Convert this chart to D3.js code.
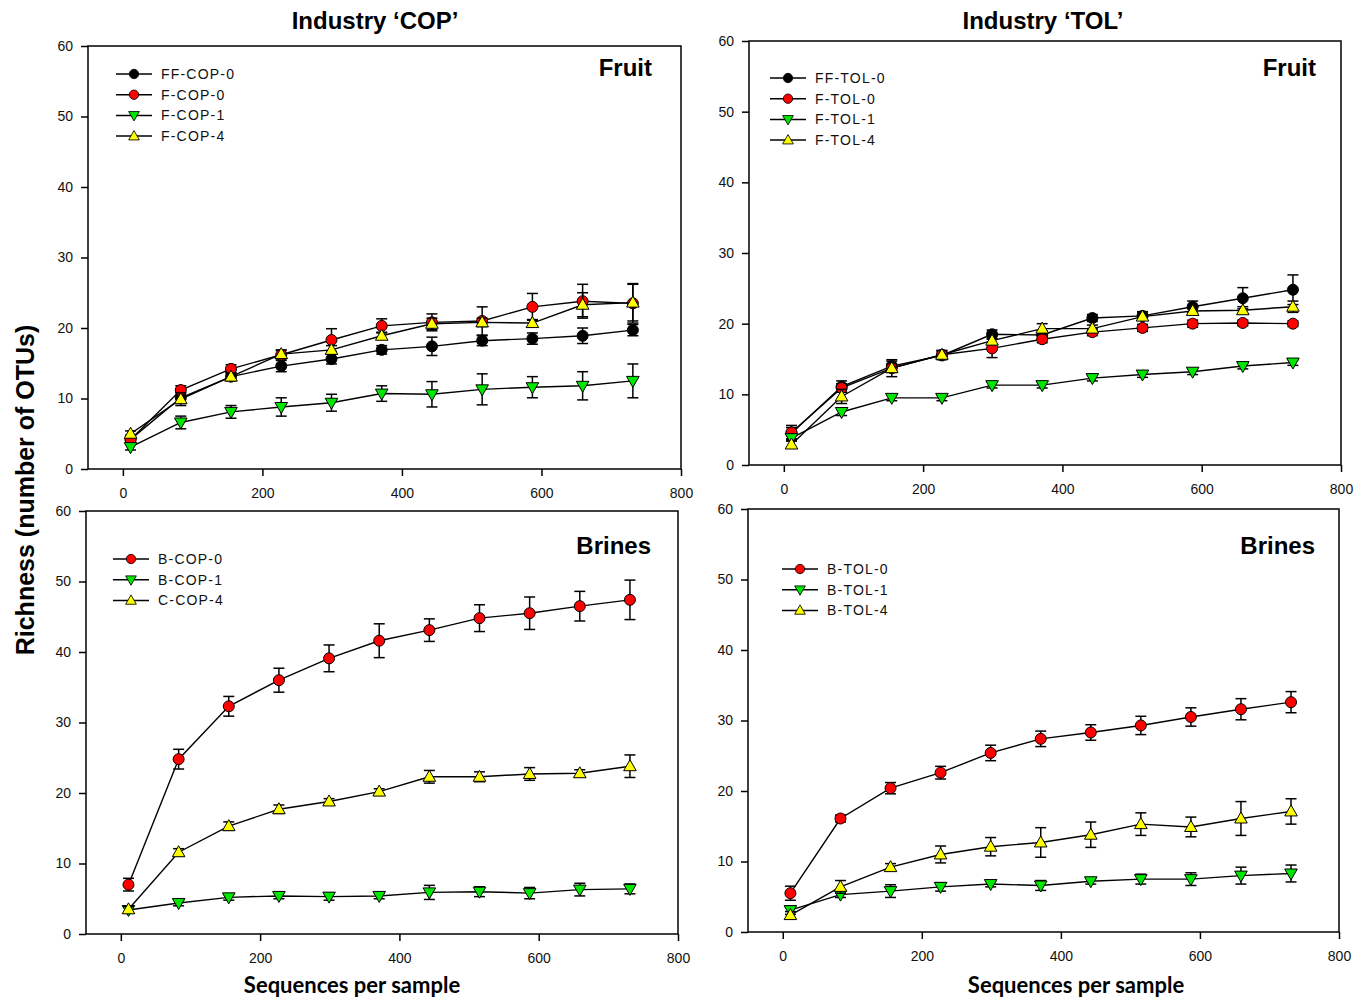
<!DOCTYPE html>
<html>
<head>
<meta charset="utf-8">
<script src="https://cdn.jsdelivr.net/npm/d3@7/dist/d3.min.js"></script>
<style>
  body { margin: 0; background: #fff; }
  svg { display: block; }
</style>
</head>
<body>
<svg id="chart" width="1369" height="997"></svg>
<script>
// ---------------- DATA ----------------
const seqPerSample = [11, 83, 155, 227, 299, 371, 443, 515, 587, 659, 731];
const xTicks = [0, 200, 400, 600, 800];
const yTicks = [0, 10, 20, 30, 40, 50, 60];

// Industry COP - Fruit
const FF_COP_0 = [4.2, 10.1, 13.1, 14.6, 15.6, 16.9, 17.4, 18.2, 18.5, 18.9, 19.7];
const FF_COP_0_err = [0.5, 0.8, 0.6, 0.8, 0.7, 0.6, 1.3, 0.7, 0.8, 1.1, 0.8];
const F_COP_0 = [4.2, 11.2, 14.2, 16.2, 18.3, 20.3, 20.8, 21.0, 23.0, 23.8, 23.5];
const F_COP_0_err = [0.6, 0.6, 0.6, 0.6, 1.6, 1.0, 1.2, 2.0, 1.9, 2.4, 2.8];
const F_COP_1 = [3.1, 6.6, 8.1, 8.8, 9.4, 10.7, 10.6, 11.3, 11.6, 11.8, 12.5];
const F_COP_1_err = [0.4, 0.9, 0.9, 1.3, 1.2, 1.1, 1.8, 2.2, 1.5, 2.0, 2.4];
const F_COP_4 = [5.0, 9.9, 13.1, 16.3, 16.9, 18.9, 20.6, 20.8, 20.7, 23.3, 23.6];
const F_COP_4_err = [0.4, 0.9, 0.5, 0.6, 0.6, 0.5, 0.8, 0.6, 0.5, 1.7, 2.6];

// Industry TOL - Fruit
const FF_TOL_0 = [4.5, 11.1, 14.0, 15.5, 18.5, 18.4, 20.8, 21.1, 22.4, 23.6, 24.8];
const FF_TOL_0_err = [0.8, 0.8, 0.7, 0.6, 0.6, 0.6, 0.5, 0.6, 0.8, 1.5, 2.1];
const F_TOL_0 = [4.6, 10.9, 13.7, 15.6, 16.5, 17.8, 18.8, 19.4, 20.0, 20.1, 20.0];
const F_TOL_0_err = [1.0, 0.6, 0.6, 0.6, 1.3, 0.5, 0.5, 0.5, 0.5, 0.4, 0.4];
const F_TOL_1 = [3.8, 7.5, 9.5, 9.5, 11.3, 11.3, 12.3, 12.8, 13.2, 14.0, 14.5];
const F_TOL_1_err = [0.4, 0.5, 0.4, 0.4, 0.4, 0.4, 0.4, 0.4, 0.4, 0.4, 0.4];
const F_TOL_4 = [2.9, 9.7, 13.7, 15.6, 17.6, 19.3, 19.3, 21.0, 21.8, 21.9, 22.4];
const F_TOL_4_err = [0.5, 1.0, 1.2, 0.6, 0.6, 0.7, 0.5, 0.5, 0.5, 0.5, 0.8];

// Industry COP - Brines
const B_COP_0 = [7.0, 24.8, 32.3, 36.0, 39.1, 41.6, 43.1, 44.8, 45.5, 46.5, 47.4];
const B_COP_0_err = [0.9, 1.4, 1.4, 1.7, 1.9, 2.4, 1.6, 1.9, 2.3, 2.1, 2.8];
const B_COP_1 = [3.4, 4.4, 5.2, 5.4, 5.3, 5.4, 5.9, 6.0, 5.8, 6.3, 6.4];
const B_COP_1_err = [0.4, 0.4, 0.4, 0.4, 0.5, 0.4, 1.0, 0.7, 0.8, 0.9, 0.7];
const C_COP_4 = [3.5, 11.6, 15.3, 17.7, 18.8, 20.2, 22.3, 22.3, 22.7, 22.8, 23.8];
const C_COP_4_err = [0.4, 0.5, 0.6, 0.6, 0.4, 0.4, 0.9, 0.7, 0.9, 0.5, 1.6];

// Industry TOL - Brines
const B_TOL_0 = [5.5, 16.1, 20.4, 22.6, 25.4, 27.4, 28.3, 29.3, 30.5, 31.6, 32.6];
const B_TOL_0_err = [1.0, 0.5, 0.8, 0.9, 1.1, 1.1, 1.1, 1.3, 1.3, 1.5, 1.5];
const B_TOL_1 = [3.1, 5.3, 5.8, 6.4, 6.8, 6.6, 7.2, 7.5, 7.5, 8.0, 8.3];
const B_TOL_1_err = [0.6, 0.4, 0.9, 0.6, 0.4, 0.7, 0.4, 0.7, 0.9, 1.2, 1.2];
const B_TOL_4 = [2.4, 6.4, 9.2, 11.0, 12.1, 12.7, 13.8, 15.3, 14.9, 16.1, 17.1];
const B_TOL_4_err = [0.5, 0.9, 0.5, 1.2, 1.3, 2.1, 1.8, 1.6, 1.4, 2.4, 1.8];

const industryTitles = ["Industry \u2018COP\u2019", "Industry \u2018TOL\u2019"];
const panelLabels = ["Fruit", "Fruit", "Brines", "Brines"];
const yAxisTitle = "Richness (number of OTUs)";
const xAxisTitle = "Sequences per sample";

// ---------------- STYLE ----------------
const COLORS = { black: "#000000", red: "#ff0000", green: "#00e600", yellow: "#ffff00" };
const FONT = "'Liberation Sans', Arial, sans-serif";

const panels = [
  { box: {l: 88, r: 681, t: 46, b: 469}, label: panelLabels[0], labelPos: {x: 652, y: 76}, legend: {x: 116, y: 74},
    series: [
      {name: "FF-COP-0", v: FF_COP_0, e: FF_COP_0_err, sym: "circle", c: COLORS.black},
      {name: "F-COP-0", v: F_COP_0, e: F_COP_0_err, sym: "circle", c: COLORS.red},
      {name: "F-COP-1", v: F_COP_1, e: F_COP_1_err, sym: "down", c: COLORS.green},
      {name: "F-COP-4", v: F_COP_4, e: F_COP_4_err, sym: "up", c: COLORS.yellow}]},
  { box: {l: 749, r: 1341, t: 41, b: 465}, label: panelLabels[1], labelPos: {x: 1316, y: 76}, legend: {x: 770, y: 78},
    series: [
      {name: "FF-TOL-0", v: FF_TOL_0, e: FF_TOL_0_err, sym: "circle", c: COLORS.black},
      {name: "F-TOL-0", v: F_TOL_0, e: F_TOL_0_err, sym: "circle", c: COLORS.red},
      {name: "F-TOL-1", v: F_TOL_1, e: F_TOL_1_err, sym: "down", c: COLORS.green},
      {name: "F-TOL-4", v: F_TOL_4, e: F_TOL_4_err, sym: "up", c: COLORS.yellow}]},
  { box: {l: 86, r: 678, t: 511, b: 934}, label: panelLabels[2], labelPos: {x: 651, y: 554}, legend: {x: 113, y: 559},
    series: [
      {name: "B-COP-0", v: B_COP_0, e: B_COP_0_err, sym: "circle", c: COLORS.red},
      {name: "B-COP-1", v: B_COP_1, e: B_COP_1_err, sym: "down", c: COLORS.green},
      {name: "C-COP-4", v: C_COP_4, e: C_COP_4_err, sym: "up", c: COLORS.yellow}]},
  { box: {l: 748, r: 1339, t: 509, b: 932}, label: panelLabels[3], labelPos: {x: 1315, y: 554}, legend: {x: 782, y: 569},
    series: [
      {name: "B-TOL-0", v: B_TOL_0, e: B_TOL_0_err, sym: "circle", c: COLORS.red},
      {name: "B-TOL-1", v: B_TOL_1, e: B_TOL_1_err, sym: "down", c: COLORS.green},
      {name: "B-TOL-4", v: B_TOL_4, e: B_TOL_4_err, sym: "up", c: COLORS.yellow}]}
];

const svg = d3.select("#chart");

function symbolPath(sym) {
  if (sym === "circle") return d3.symbol().type(d3.symbolCircle).size(Math.PI * 5.5 * 5.5)();
  if (sym === "up") return "M0,-6.5L6.3,4.5L-6.3,4.5Z";
  return "M0,6.5L6.3,-4.5L-6.3,-4.5Z";
}

panels.forEach(p => {
  const x = d3.scaleLinear().domain([-50, 800]).range([p.box.l, p.box.r]);
  const y = d3.scaleLinear().domain([0, 60]).range([p.box.b, p.box.t]);
  const g = svg.append("g");

  // frame
  g.append("rect").attr("x", p.box.l).attr("y", p.box.t)
    .attr("width", p.box.r - p.box.l).attr("height", p.box.b - p.box.t)
    .attr("fill", "none").attr("stroke", "#000").attr("stroke-width", 1.5);

  // y axis
  const ya = g.append("g").attr("transform", `translate(${p.box.l},0)`)
    .call(d3.axisLeft(y).tickValues(yTicks).tickSize(7).tickPadding(8));
  // x axis
  const xa = g.append("g").attr("transform", `translate(0,${p.box.b})`)
    .call(d3.axisBottom(x).tickValues(xTicks).tickSize(7).tickPadding(12));
  [ya, xa].forEach(a => {
    a.select(".domain").remove();
    a.selectAll(".tick line").attr("stroke", "#000").attr("stroke-width", 1.5);
    a.selectAll(".tick text").attr("fill", "#111").style("font-family", FONT).style("font-size", "14px");
  });

  // panel label
  g.append("text").attr("x", p.labelPos.x).attr("y", p.labelPos.y)
    .attr("text-anchor", "end").style("font-family", FONT).style("font-weight", "bold")
    .style("font-size", "24px").attr("fill", "#000").text(p.label);

  const line = d3.line().x((d, i) => x(seqPerSample[i])).y(d => y(d));

  p.series.forEach(s => {
    const sg = g.append("g");
    sg.append("path").datum(s.v).attr("d", line).attr("fill", "none")
      .attr("stroke", "#000").attr("stroke-width", 1.4);
    // error bars
    s.v.forEach((v, i) => {
      const cx = x(seqPerSample[i]);
      const y1 = y(v - s.e[i]), y2 = y(v + s.e[i]);
      sg.append("line").attr("x1", cx).attr("x2", cx).attr("y1", y1).attr("y2", y2)
        .attr("stroke", "#000").attr("stroke-width", 1.5);
      [y1, y2].forEach(yy => sg.append("line").attr("x1", cx - 5.5).attr("x2", cx + 5.5)
        .attr("y1", yy).attr("y2", yy).attr("stroke", "#000").attr("stroke-width", 1.5));
    });
    sg.selectAll("path.mk").data(s.v).enter().append("path").attr("class", "mk")
      .attr("d", symbolPath(s.sym))
      .attr("transform", (d, i) => `translate(${x(seqPerSample[i])},${y(d)})`)
      .attr("fill", s.c).attr("stroke", "#000").attr("stroke-width", 1);
  });

  // legend
  p.series.forEach((s, i) => {
    const ly = p.legend.y + i * 20.7;
    const lg = g.append("g");
    lg.append("line").attr("x1", p.legend.x).attr("x2", p.legend.x + 36)
      .attr("y1", ly).attr("y2", ly).attr("stroke", "#000").attr("stroke-width", 1.5);
    lg.append("path").attr("d", symbolPath(s.sym))
      .attr("transform", `translate(${p.legend.x + 18},${ly}) scale(0.85)`)
      .attr("fill", s.c).attr("stroke", "#000").attr("stroke-width", 1);
    lg.append("text").attr("x", p.legend.x + 45).attr("y", ly + 5)
      .style("font-family", FONT).style("font-size", "14px").style("letter-spacing", "1.2px")
      .attr("fill", "#111").text(s.name);
  });
});

// industry titles
[[375, industryTitles[0]], [1043, industryTitles[1]]].forEach(([cx, t]) => {
  svg.append("text").attr("x", cx).attr("y", 29).attr("text-anchor", "middle")
    .style("font-family", FONT).style("font-weight", "bold").style("font-size", "24px")
    .attr("fill", "#000").text(t);
});

// x axis titles
[352, 1076].forEach(cx => {
  svg.append("text").attr("x", cx).attr("y", 993).attr("text-anchor", "middle")
    .style("font-family", "Lato, 'Open Sans', sans-serif").style("font-weight", "bold")
    .style("font-size", "22px").attr("fill", "#000").text(xAxisTitle);
});

// y axis title
svg.append("text").attr("transform", "translate(34,490) rotate(-90)").attr("text-anchor", "middle")
  .style("font-family", FONT).style("font-weight", "bold").style("font-size", "25px")
  .attr("fill", "#000").text(yAxisTitle);
</script>
</body>
</html>
